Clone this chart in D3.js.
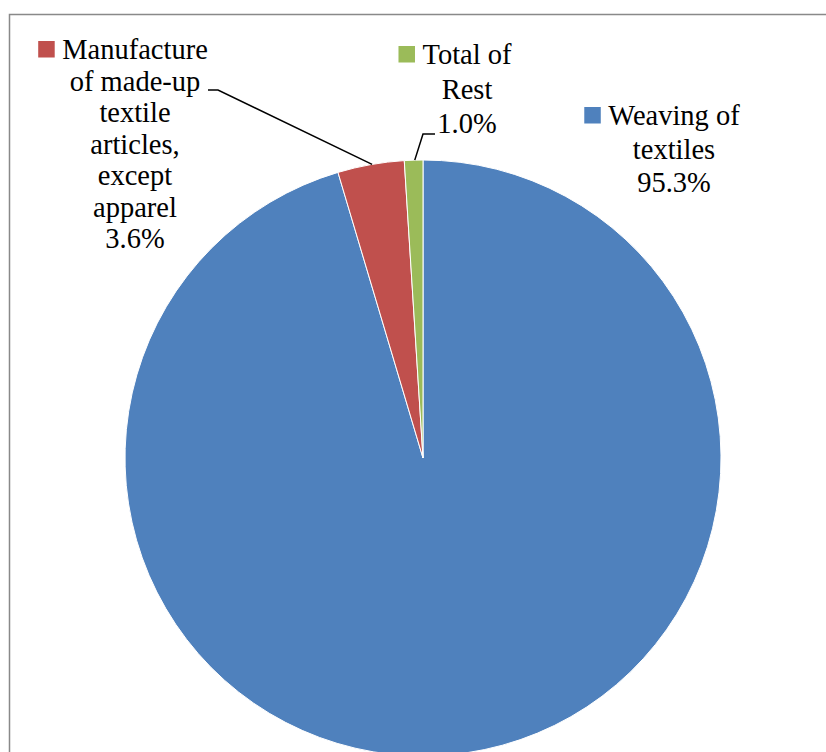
<!DOCTYPE html>
<html>
<head>
<meta charset="utf-8">
<script src="https://cdn.jsdelivr.net/npm/d3@7/dist/d3.min.js"></script>
<style>
  html, body { margin: 0; padding: 0; background: #fff; }
  svg { display: block; }
</style>
</head>
<body>
<svg id="chart" width="826" height="752"></svg>
<script>
// Share of output by activity (percent)
const categories = ["Weaving of textiles", "Manufacture of made-up textile articles, except apparel", "Total of Rest"];
const values = [95.3, 3.6, 1.0];
const colors = ["#4F81BD", "#C0504D", "#9BBB59"];
// Label text broken into lines as set in the chart
const labelLines = [
  ["Weaving of", "textiles"],
  ["Manufacture", "of made-up", "textile", "articles,", "except", "apparel"],
  ["Total of", "Rest"]
];

const svg = d3.select("#chart");
const W = 826, H = 752;

// chart frame (right and bottom edges fall outside the view)
svg.append("rect")
  .attr("x", 9.5).attr("y", 14.5)
  .attr("width", W + 20).attr("height", H + 20)
  .attr("fill", "#fff")
  .attr("stroke", "#898989")
  .attr("stroke-width", 1.5);

const cx = 423, cy = 458, r = 298;

const data = categories.map((c, i) => ({ name: c, value: values[i], color: colors[i], lines: labelLines[i] }));

const pie = d3.pie().value(d => d.value).sort(null);
const arc = d3.arc().innerRadius(0).outerRadius(r);
const arcs = pie(data);

const g = svg.append("g").attr("transform", `translate(${cx},${cy})`);
g.selectAll("path.slice")
  .data(arcs)
  .join("path")
  .attr("class", "slice")
  .attr("d", arc)
  .attr("fill", d => d.data.color)
  .attr("stroke", "#fff")
  .attr("stroke-width", 1);

// label placement: text centre, first baseline, line spacing, leader
const labelLayout = [
  { x: 674, y: 125, lh: 33.5, leader: null },
  { x: 135, y: 59, lh: 31.5, leader: { elbow: [[208, 90], [218, 90]], frac: 0.52 } },
  { x: 467, y: 64, lh: 34.5, leader: { elbow: [[435, 134], [423, 134]], frac: 0.56 } }
];

const fmt = d3.format(".1f");
const font = "'Liberation Serif', 'Times New Roman', serif";

arcs.forEach((a, i) => {
  const L = labelLayout[i];
  const lines = a.data.lines.concat([fmt(a.data.value) + "%"]);
  const t = svg.append("text")
    .attr("font-family", font)
    .attr("font-size", 28.5)
    .attr("fill", "#000")
    .attr("text-anchor", "middle");
  lines.forEach((ln, k) => {
    t.append("tspan").attr("x", L.x).attr("y", L.y + k * L.lh).text(ln);
  });
  // legend key before the first line
  const first = t.select("tspan").node();
  const bb = first.getBBox();
  svg.append("rect")
    .attr("x", bb.x - 24).attr("y", L.y - 18)
    .attr("width", 16.5).attr("height", 16.5)
    .attr("fill", a.data.color);

  // leader line to the slice edge
  if (L.leader) {
    const ang = a.startAngle + (a.endAngle - a.startAngle) * L.leader.frac;
    const ex = cx + Math.sin(ang) * r, ey = cy - Math.cos(ang) * r;
    const pts = L.leader.elbow.concat([[ex, ey]]);
    svg.append("path")
      .attr("d", d3.line()(pts))
      .attr("fill", "none")
      .attr("stroke", "#000")
      .attr("stroke-width", 1.5);
  }
});
</script>
</body>
</html>
